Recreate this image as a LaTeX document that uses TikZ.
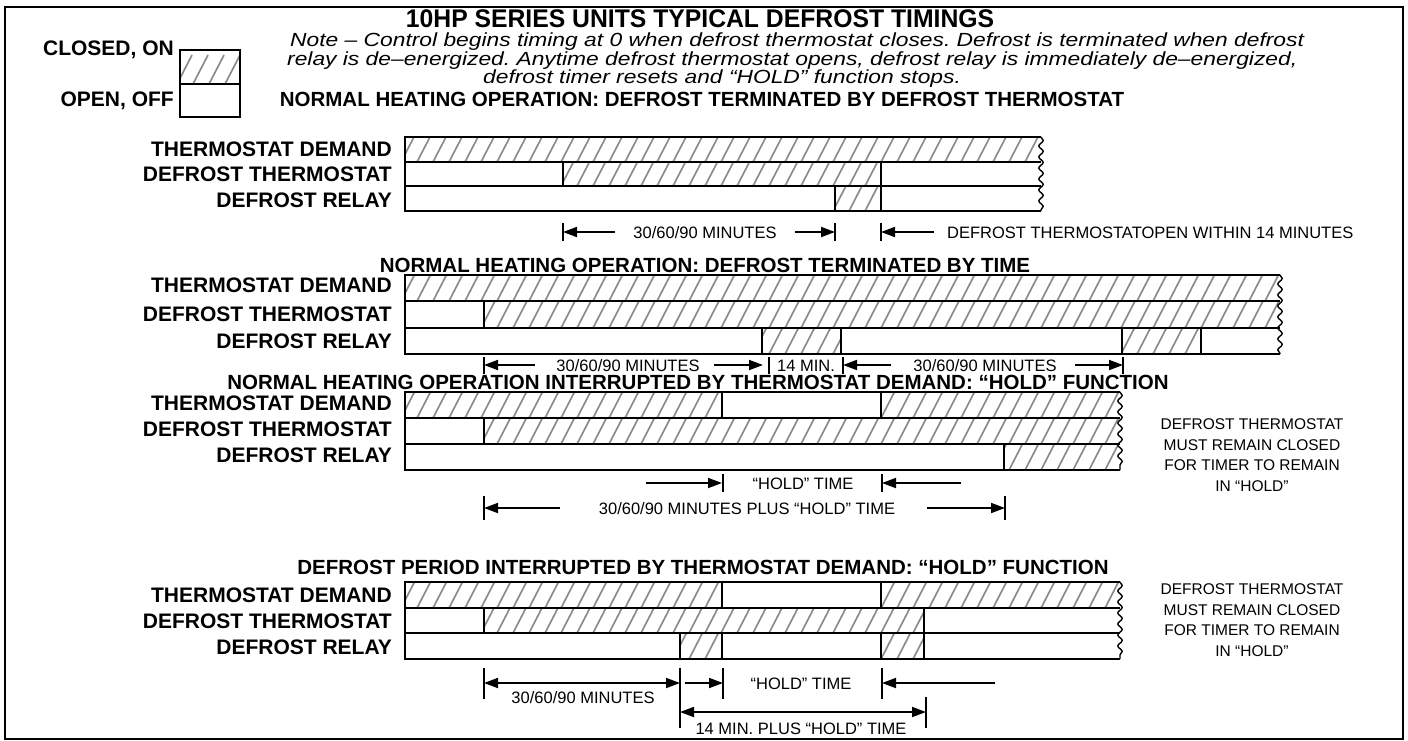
\documentclass[tikz,border=0pt]{standalone}
\usepackage{fontspec}
\setmainfont{Liberation Sans}
\newfontfamily\cond[FakeStretch=0.97]{Liberation Sans}
\newfontfamily\wide[FakeStretch=1.2]{Liberation Sans}
\usetikzlibrary{arrows.meta,decorations.pathmorphing}
\frenchspacing
\tikzset{
  lab/.style={font=\fontsize{21}{24}\selectfont\bfseries, anchor=east, inner sep=0},
  head/.style={font=\fontsize{20.5}{24}\selectfont\bfseries, inner sep=0},
  dim/.style={font=\fontsize{16.5}{18}\selectfont, inner sep=0},
  notel/.style={font=\wide\fontsize{19}{19}\selectfont\itshape, inner sep=0, anchor=west},
  rnote/.style={font=\fontsize{15.5}{20.5}\selectfont, inner sep=0, align=center},
  bar/.style={line width=1.4pt},
  hatchline/.style={line width=1.7pt, black!45},
  arr/.style={line width=1.8pt, -{Triangle[length=14pt,width=10pt]}},
  darr/.style={line width=1.8pt, {Triangle[length=14pt,width=10pt]}-{Triangle[length=14pt,width=10pt]}},
  tickline/.style={line width=1.2pt},
  jag/.style={line width=1.4pt, decorate, decoration={snake, amplitude=2.2pt, segment length=11pt}}
}
\newcommand\hb[4]{%
  \begin{scope}
    \clip (#1,#3) rectangle (#2,#4);
    \foreach \xx in {0,16,...,1440} \draw[hatchline] (\xx,#4+2) -- ++(16,-31);
  \end{scope}}
\begin{document}
\begin{tikzpicture}[x=1pt,y=-1pt]
\useasboundingbox (0,0) rectangle (1408,740);
\draw[line width=2.6pt] (5,7) rectangle (1403,739);

% title and note
\node[font=\cond\fontsize{25.5}{26}\selectfont\bfseries, inner sep=0] (title) at (700,19) {10HP SERIES UNITS TYPICAL DEFROST TIMINGS};
\node[notel] (n1) at (290,42) {Note – Control begins timing at 0 when defrost thermostat closes. Defrost is terminated when defrost};
\node[notel] (n2) at (287,60.5) {relay is de–energized. Anytime defrost thermostat opens, defrost relay is immediately de–energized,};
\node[notel] (n3) at (483,79) {defrost timer resets and “HOLD” function stops.};

% legend
\hb{180}{240}{50}{84}
\draw[bar] (180,50) rectangle (240,117);
\draw[bar] (180,84) -- (240,84);
\node[lab] (lclosed) at (174,50) {CLOSED, ON};
\node[lab] (lopen) at (174,101) {OPEN, OFF};

% ================= Section 1
\node[head] (h1) at (702,99) {NORMAL HEATING OPERATION: DEFROST TERMINATED BY DEFROST THERMOSTAT};
\node[lab] at (392,149) {THERMOSTAT DEMAND};
\node[lab] at (392,174) {DEFROST THERMOSTAT};
\node[lab] at (392,200) {DEFROST RELAY};
\hb{405}{1041}{137}{162}
\hb{563}{881}{162}{186}
\hb{835}{881}{186}{211}
\draw[bar] (1041,137) -- (405,137) -- (405,211) -- (1041,211);
\draw[bar] (405,162) -- (1041,162);
\draw[bar] (405,186) -- (1041,186);
\draw[bar] (563,162) -- (563,186);
\draw[bar] (835,186) -- (835,211);
\draw[bar] (881,162) -- (881,211);
\draw[jag] (1041,137) -- (1041,211);
\coordinate (a1) at (563,232); \coordinate (a2) at (835,232); \coordinate (a3) at (881,232);
\draw[tickline] (563,223) -- (563,241);
\draw[tickline] (835,223) -- (835,241);
\draw[tickline] (881,223) -- (881,241);
\draw[arr] (615,232) -- (a1);
\draw[arr] (795,232) -- (a2);
\draw[arr] (934,232) -- (a3);
\node[dim] (t1) at (705,233) {30/60/90 MINUTES};
\node[dim, anchor=west] (t2) at (947,233) {DEFROST THERMOSTATOPEN WITHIN 14 MINUTES};

% ================= Section 2
\node[head] (h2) at (705,265) {NORMAL HEATING OPERATION: DEFROST TERMINATED BY TIME};
\node[lab] at (392,285) {THERMOSTAT DEMAND};
\node[lab] at (392,314) {DEFROST THERMOSTAT};
\node[lab] at (392,341) {DEFROST RELAY};
\hb{405}{1280}{275}{301}
\hb{484}{1280}{301}{328}
\hb{762}{841}{328}{354}
\hb{1122}{1201}{328}{354}
\draw[bar] (1280,275) -- (405,275) -- (405,354) -- (1280,354);
\draw[bar] (405,301) -- (1280,301);
\draw[bar] (405,328) -- (1280,328);
\draw[bar] (484,301) -- (484,328);
\draw[bar] (762,328) -- (762,354);
\draw[bar] (841,328) -- (841,354);
\draw[bar] (1122,328) -- (1122,354);
\draw[bar] (1201,328) -- (1201,354);
\draw[jag] (1280,275) -- (1280,354);
\coordinate (b1) at (484,365); \coordinate (b2) at (763,365); \coordinate (b3) at (843,365); \coordinate (b4) at (1123,365);
\draw[tickline] (484,357) -- (484,374);
\draw[tickline] (769,357) -- (769,374);
\draw[tickline] (843,357) -- (843,374);
\draw[tickline] (1123,357) -- (1123,374);
\draw[arr] (535,365) -- (b1);
\draw[arr] (714,365) -- (b2);
\draw[arr] (891,365) -- (b3);
\draw[arr] (1075,365) -- (b4);
\node[dim] at (628,366) {30/60/90 MINUTES};
\node[dim] at (806,366) {14 MIN.};
\node[dim] at (985,366) {30/60/90 MINUTES};

% ================= Section 3
\node[head] (h3) at (698,382) {NORMAL HEATING OPERATION INTERRUPTED BY THERMOSTAT DEMAND: “HOLD” FUNCTION};
\node[lab] at (392,403) {THERMOSTAT DEMAND};
\node[lab] at (392,429) {DEFROST THERMOSTAT};
\node[lab] at (392,455) {DEFROST RELAY};
\hb{405}{722}{392}{418}
\hb{881}{1120}{392}{418}
\hb{484}{1120}{418}{444}
\hb{1004}{1120}{444}{470}
\draw[bar] (1120,392) -- (405,392) -- (405,470) -- (1120,470);
\draw[bar] (405,418) -- (1120,418);
\draw[bar] (405,444) -- (1120,444);
\draw[bar] (722,392) -- (722,418);
\draw[bar] (881,392) -- (881,418);
\draw[bar] (484,418) -- (484,444);
\draw[bar] (1004,444) -- (1004,470);
\draw[jag] (1120,392) -- (1120,470);
\coordinate (c1) at (722,483); \coordinate (c2) at (882,483);
\coordinate (c3) at (484,508); \coordinate (c4) at (1005,508);
\draw[tickline] (723,474) -- (723,492);
\draw[tickline] (882,474) -- (882,492);
\draw[tickline] (484,496) -- (484,520);
\draw[tickline] (1005,496) -- (1005,520);
\draw[arr] (646,483) -- (c1);
\draw[arr] (961,483) -- (c2);
\draw[arr] (560,508) -- (c3);
\draw[arr] (927,508) -- (c4);
\node[dim] at (803,484) {“HOLD” TIME};
\node[dim] at (747,509) {30/60/90 MINUTES PLUS “HOLD” TIME};
\node[rnote] (r3) at (1252,455) {DEFROST THERMOSTAT\\MUST REMAIN CLOSED\\FOR TIMER TO REMAIN\\IN “HOLD”};

% ================= Section 4
\node[head] (h4) at (703,567) {DEFROST PERIOD INTERRUPTED BY THERMOSTAT DEMAND: “HOLD” FUNCTION};
\node[lab] at (392,595) {THERMOSTAT DEMAND};
\node[lab] at (392,621) {DEFROST THERMOSTAT};
\node[lab] at (392,647) {DEFROST RELAY};
\hb{405}{722}{582}{608}
\hb{881}{1120}{582}{608}
\hb{484}{924}{608}{633}
\hb{680}{722}{633}{659}
\hb{881}{924}{633}{659}
\draw[bar] (1120,582) -- (405,582) -- (405,659) -- (1120,659);
\draw[bar] (405,608) -- (1120,608);
\draw[bar] (405,633) -- (1120,633);
\draw[bar] (722,582) -- (722,608);
\draw[bar] (881,582) -- (881,608);
\draw[bar] (484,608) -- (484,633);
\draw[bar] (924,608) -- (924,659);
\draw[bar] (680,633) -- (680,659);
\draw[bar] (722,633) -- (722,659);
\draw[bar] (881,633) -- (881,659);
\draw[jag] (1120,582) -- (1120,659);
\coordinate (d1) at (484,683); \coordinate (d2) at (680,683); \coordinate (d3) at (723,683);
\coordinate (d4) at (882,683); \coordinate (d5) at (680,712); \coordinate (d6) at (926,712);
\draw[tickline] (484,668) -- (484,699);
\draw[tickline] (680,668) -- (680,728);
\draw[tickline] (723,668) -- (723,699);
\draw[tickline] (882,668) -- (882,699);
\draw[tickline] (926,697) -- (926,728);
\draw[darr] (d1) -- (d2);
\draw[arr] (685,683) -- (d3);
\draw[arr] (995,683) -- (d4);
\draw[darr] (d5) -- (d6);
\node[dim] at (583,698) {30/60/90 MINUTES};
\node[dim] at (801,684) {“HOLD” TIME};
\node[dim] at (801,729) {14 MIN. PLUS “HOLD” TIME};
\node[rnote] (r4) at (1252,620) {DEFROST THERMOSTAT\\MUST REMAIN CLOSED\\FOR TIMER TO REMAIN\\IN “HOLD”};
\end{tikzpicture}
\end{document}
